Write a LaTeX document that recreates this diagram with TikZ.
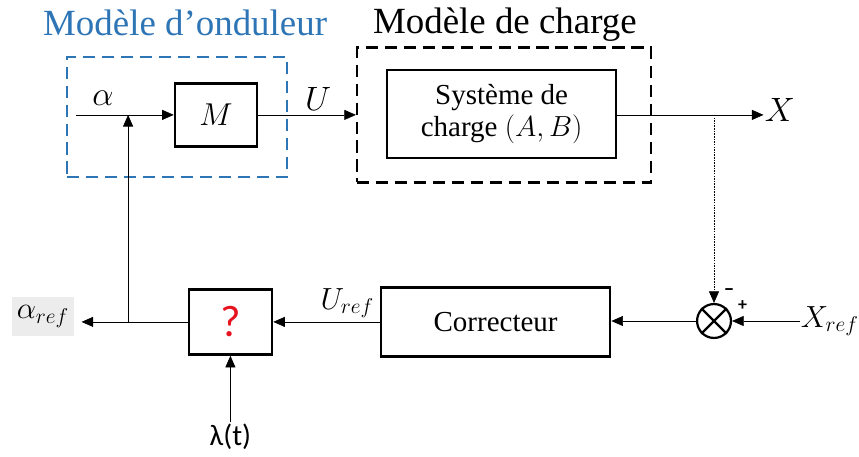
\RequirePackage{fix-cm}
\documentclass[tikz,border=0pt]{standalone}
\usepackage{fontspec}
\setmainfont{Liberation Serif}
\newfontfamily\calibri{Carlito}
\definecolor{ondblue}{RGB}{46,117,182}
\definecolor{refgray}{RGB}{236,236,236}
\definecolor{qred}{RGB}{230,20,30}
\usetikzlibrary{arrows.meta,positioning,calc}

\begin{document}
\begin{tikzpicture}[
  blk/.style={rectangle, draw=black, line width=2.5pt, align=center,
              font=\fontsize{27.5}{31}\selectfont},
  grp/.style={rectangle, line width=2.1pt, dash pattern=on 11.5pt off 6.5pt},
  lbl/.style={font=\fontsize{32}{36}\selectfont, inner sep=1pt},
  sublbl/.style={font=\fontsize{29}{33}\selectfont, inner sep=1pt},
  ttl/.style={font=\fontsize{35}{40}\selectfont, anchor=base},
  arr/.style={-{Triangle[length=11pt,width=9.5pt]}, line width=0.6pt}
]
\useasboundingbox (0,0) rectangle (28.633,-15.233);

% Titles
\node[ttl, text=ondblue] (ttlond) at (6.17,-1.17) {Modèle d’onduleur};
\node[ttl] (ttlchg) at (16.83,-1.1) {Modèle de charge};

% Group boxes (dashed)
\node[grp, draw=ondblue, minimum width=7.33cm, minimum height=4.0cm] (ondbox) at (5.9,-3.9) {};
\node[grp, draw=black, minimum width=9.8cm, minimum height=4.5cm] (chgbox) at (16.8,-3.83) {};

% Top row
\node[blk, minimum width=2.73cm, minimum height=2.1cm, font=\fontsize{30}{34}\selectfont] (mod) at (7.2,-3.83) {$M$};
\node[blk, minimum width=7.63cm, minimum height=2.93cm] (sys) at (16.72,-3.8)
  {Système de\\charge $(A,B)$};
\coordinate (ain) at (2.53,-3.83);
\coordinate (jtop) at (4.27,-3.83);
\node[lbl] (alpha) at (3.43,-3.27) {$\alpha$};
\node[lbl] (ulab) at (10.6,-3.3) {$U$};
\node[lbl, anchor=west] (xlab) at (25.45,-3.67) {$X$};

% Bottom row
\node[blk, minimum width=7.63cm, minimum height=2.3cm] (corr) at (16.52,-10.73) {Correcteur};
\node[blk, minimum width=2.77cm, minimum height=2.17cm, text=qred,
      font=\calibri\fontsize{42}{46}\selectfont] (quest) at (7.68,-10.73) {?};
\node[circle, draw=black, line width=2.1pt, minimum size=1.13cm, inner sep=0pt] (sum) at (23.8,-10.7) {};
\draw[line width=2.1pt] (sum.north west) -- (sum.south east)
                        (sum.north east) -- (sum.south west);
\node[font=\calibri\bfseries\fontsize{20}{22}\selectfont, inner sep=0pt] (minus) at (24.3,-9.75) {–};
\node[font=\calibri\bfseries\fontsize{17}{19}\selectfont, inner sep=0pt] (plus) at (24.75,-10.2) {+};
\node[sublbl, anchor=west] (xref) at (26.65,-10.7) {$X_{ref}$};
\node[sublbl] (uref) at (11.57,-10.1) {$U_{ref}$};
\node[sublbl, fill=refgray, minimum width=2.07cm, minimum height=1.3cm] (aref) at (1.43,-10.55) {$\alpha_{ref}$};
\node[font=\calibri\fontsize{28}{32}\selectfont, inner sep=1pt] (lam) at (7.68,-14.55) {λ(t)};
\coordinate (jbot) at (4.27,-10.73);
\coordinate (tap) at (23.8,-3.83);

% Arrows
\draw[arr] (ain) -- (mod.west);
\draw[arr] (jbot) -- (jtop);
\draw[arr] (mod.east) -- (mod.east -| chgbox.west);
\draw[arr] (sys.east |- tap) -- (xlab.west |- tap);
\draw[arr, dash pattern=on 1.5pt off 1pt] (tap) -- (sum.north);
\draw[arr] (xref.west) -- (sum.east);
\draw[arr] (sum.west) -- (sum.west -| corr.east);
\draw[arr] (corr.west) -- (quest.east);
\draw[arr, shorten >=7pt] (quest.west) -- (quest.west -| aref.east);
\draw[arr] (lam.north) -- (quest.south);
\end{tikzpicture}
\end{document}
